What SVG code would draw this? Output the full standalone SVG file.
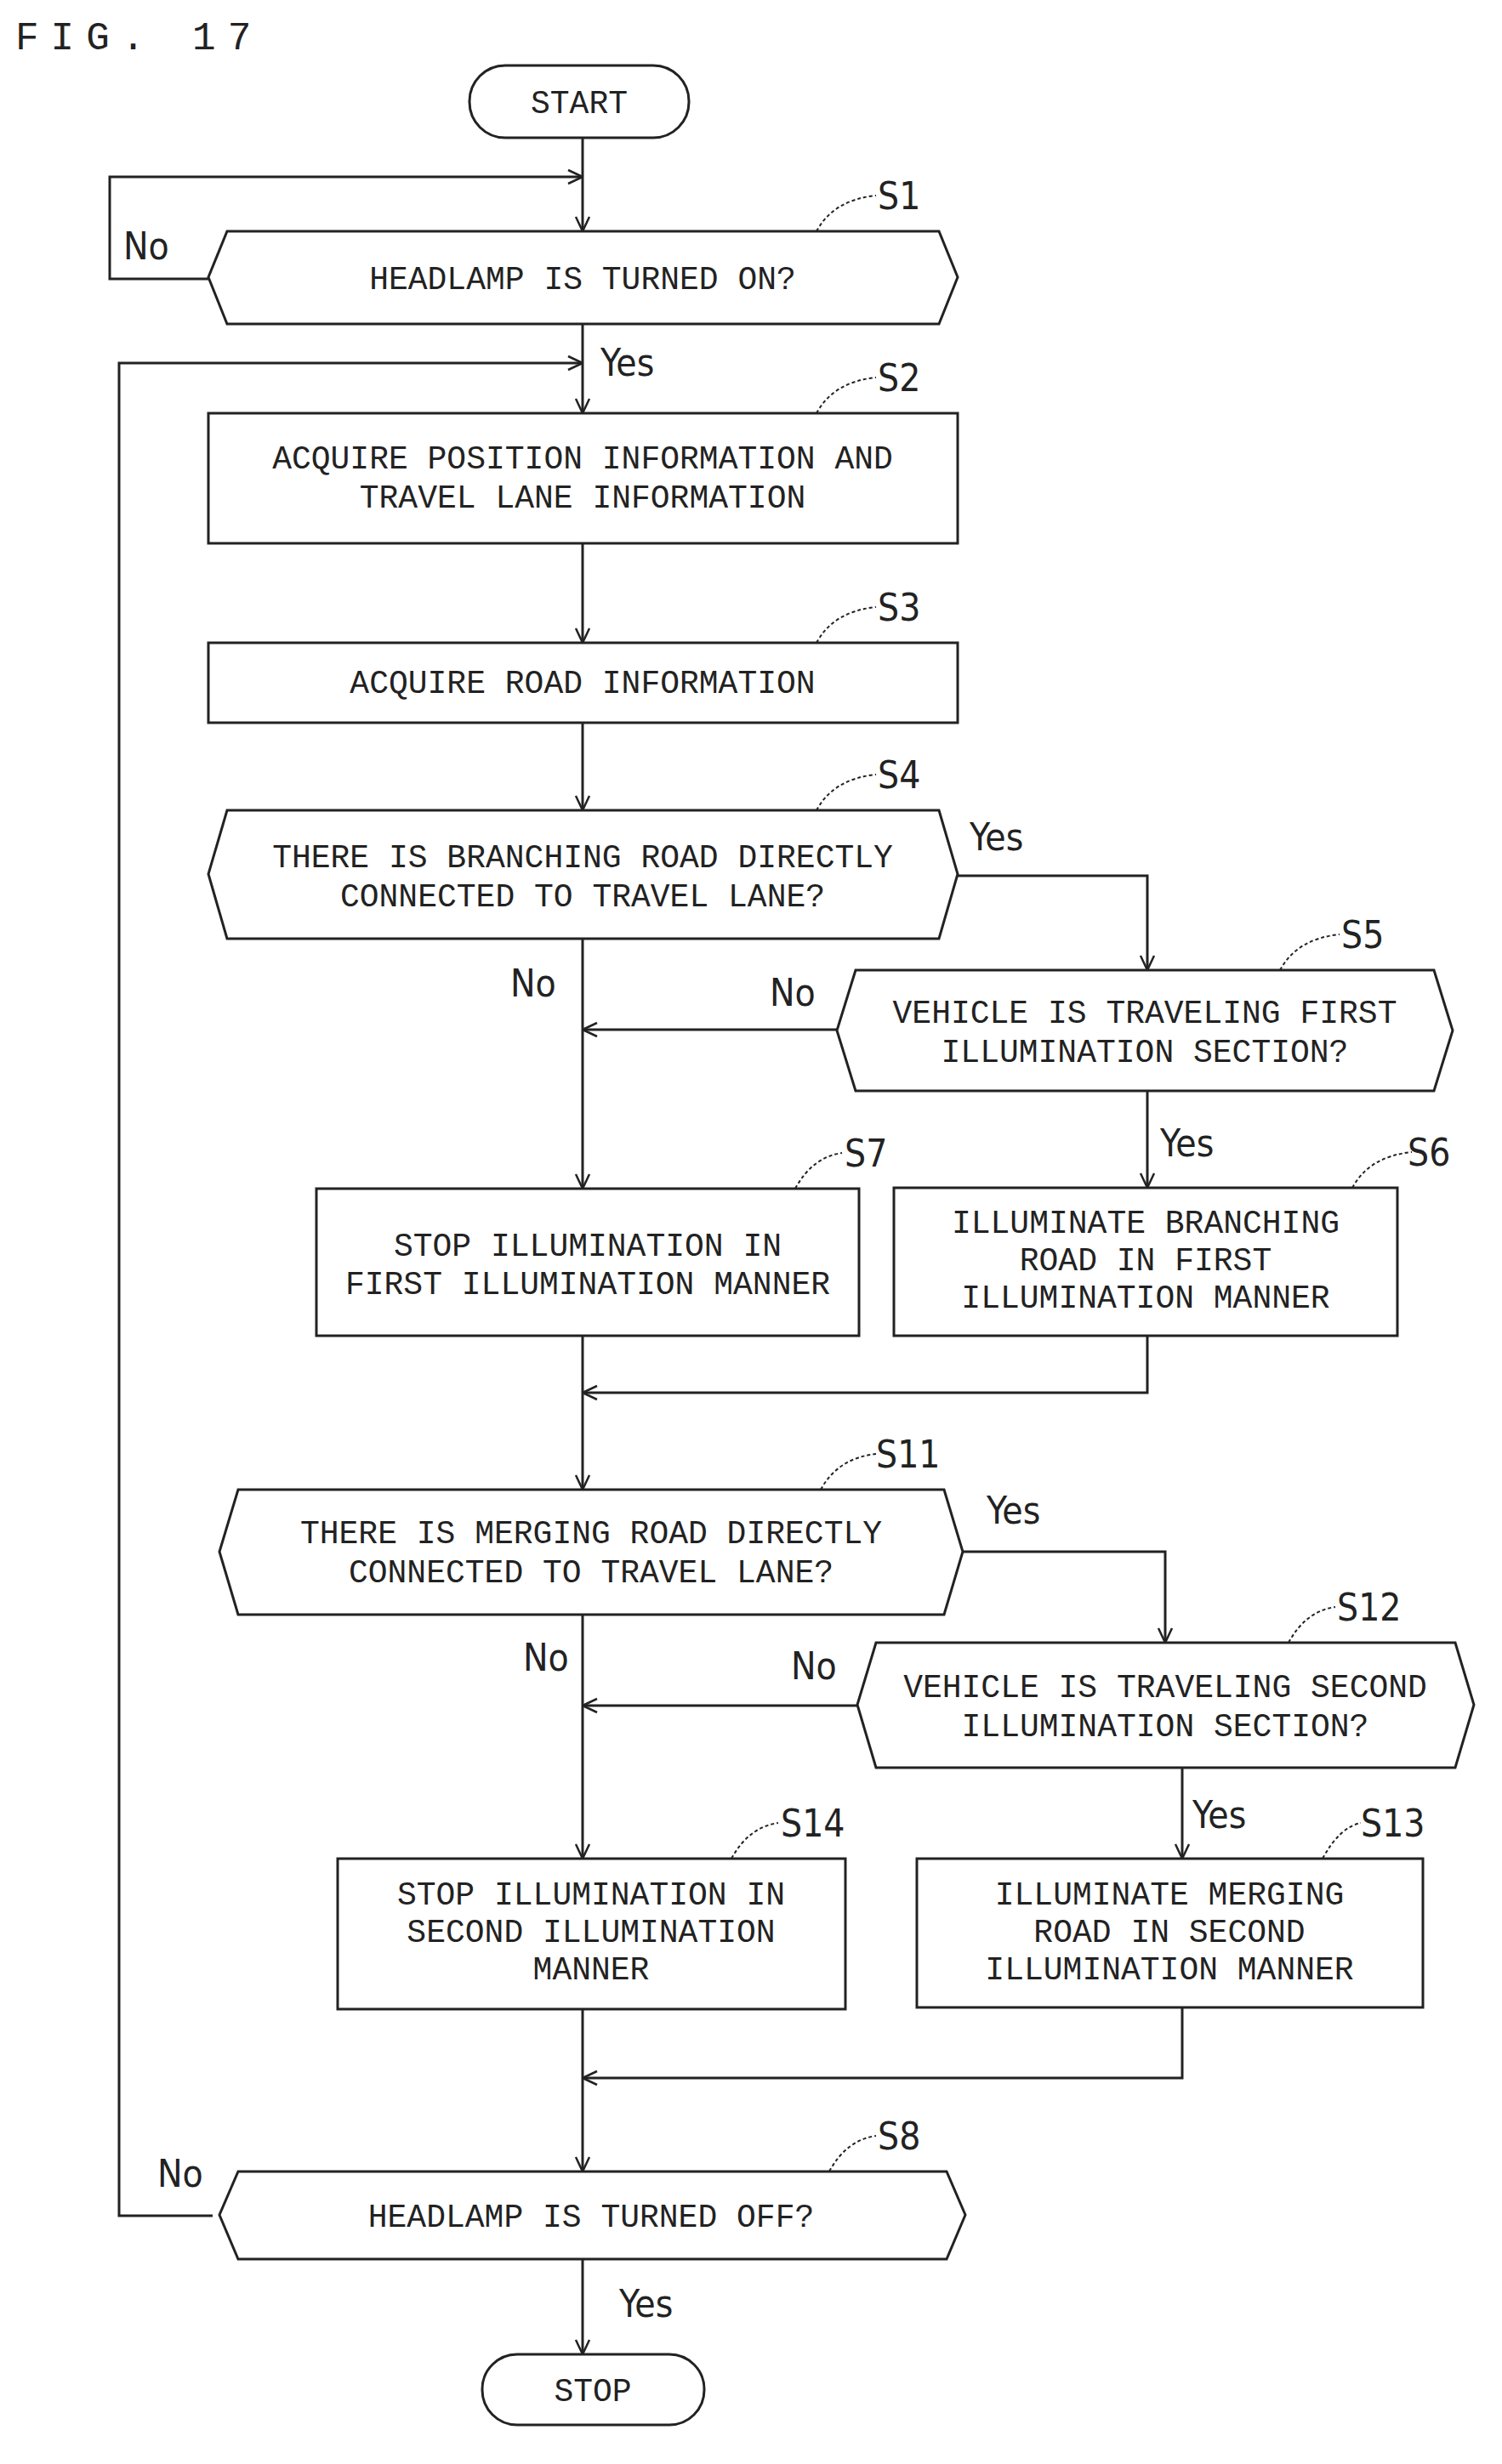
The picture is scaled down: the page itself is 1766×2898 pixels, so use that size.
<svg xmlns="http://www.w3.org/2000/svg" width="1766" height="2898" viewBox="0 0 1766 2898">
<style>
.s{fill:#fff;stroke:#222;stroke-width:3}
.t{font-family:"Liberation Mono",monospace;font-size:38px;fill:#222;text-anchor:middle}
.l{font-family:"DejaVu Sans Condensed","DejaVu Sans",sans-serif;font-size:44px;fill:#222}
.c{fill:none;stroke:#222;stroke-width:3}
.q{fill:none;stroke:#222;stroke-width:2;stroke-dasharray:4 3}
</style>
<defs><marker id="a" viewBox="0 0 20 20" refX="19" refY="10" markerWidth="20" markerHeight="20" markerUnits="userSpaceOnUse" orient="auto"><path d="M2 2L19 10L2 18" fill="none" stroke="#222" stroke-width="2.5"/></marker></defs>
<rect width="1766" height="2898" fill="#fff"/>
<text x="18" y="58" style="font-family:'Liberation Mono',monospace;font-size:46px;fill:#222;letter-spacing:14px">FIG. 17</text>
<g id="connectors">
<path class="c" d="M685 162V272" marker-end="url(#a)"/>
<path class="c" d="M245 328H129V208H685" marker-end="url(#a)"/>
<path class="c" d="M685 381V486" marker-end="url(#a)"/>
<path class="c" d="M250 2606H140V427H685" marker-end="url(#a)"/>
<path class="c" d="M685 639V756" marker-end="url(#a)"/>
<path class="c" d="M685 850V953" marker-end="url(#a)"/>
<path class="c" d="M1126 1030H1349V1141" marker-end="url(#a)"/>
<path class="c" d="M685 1104V1398" marker-end="url(#a)"/>
<path class="c" d="M984 1211H685" marker-end="url(#a)"/>
<path class="c" d="M1349 1283V1397" marker-end="url(#a)"/>
<path class="c" d="M685 1571V1752" marker-end="url(#a)"/>
<path class="c" d="M1349 1571V1638H685" marker-end="url(#a)"/>
<path class="c" d="M1132 1825H1370V1932" marker-end="url(#a)"/>
<path class="c" d="M685 1899V2186" marker-end="url(#a)"/>
<path class="c" d="M1008 2006H685" marker-end="url(#a)"/>
<path class="c" d="M1390 2079V2186" marker-end="url(#a)"/>
<path class="c" d="M685 2363V2554" marker-end="url(#a)"/>
<path class="c" d="M1390 2361V2444H685" marker-end="url(#a)"/>
<path class="c" d="M685 2657V2769" marker-end="url(#a)"/>
<text class="l" x="145" y="305">No</text>
<text class="l" x="706" y="442">Yes</text>
<text class="l" x="1140" y="1000">Yes</text>
<text class="l" x="600" y="1172">No</text>
<text class="l" x="905" y="1183">No</text>
<text class="l" x="1364" y="1360">Yes</text>
<text class="l" x="1160" y="1792">Yes</text>
<text class="l" x="615" y="1965">No</text>
<text class="l" x="930" y="1975">No</text>
<text class="l" x="1402" y="2150">Yes</text>
<text class="l" x="185" y="2572">No</text>
<text class="l" x="728" y="2725">Yes</text>
</g>
<g id="start"><rect class="s" x="552" y="77" width="258" height="85" rx="42"/><text class="t" x="681" y="133">START</text></g>
<g id="S1"><polygon class="s" points="267,272 1104,272 1126,326 1104,381 267,381 245,326"/><text class="t" x="685" y="340">HEADLAMP IS TURNED ON?</text><path class="q" d="M960 272Q980 235 1030 230"/><text class="l" x="1032" y="246">S1</text></g>
<g id="S2"><rect class="s" x="245" y="486" width="881" height="153"/><text class="t" x="685" y="551">ACQUIRE POSITION INFORMATION AND</text><text class="t" x="685" y="597">TRAVEL LANE INFORMATION</text><path class="q" d="M960 486Q980 449 1030 444"/><text class="l" x="1032" y="460">S2</text></g>
<g id="S3"><rect class="s" x="245" y="756" width="881" height="94"/><text class="t" x="685" y="815">ACQUIRE ROAD INFORMATION</text><path class="q" d="M960 756Q980 719 1030 714"/><text class="l" x="1032" y="730">S3</text></g>
<g id="S4"><polygon class="s" points="267,953 1104,953 1126,1028 1104,1104 267,1104 245,1028"/><text class="t" x="685" y="1020">THERE IS BRANCHING ROAD DIRECTLY</text><text class="t" x="685" y="1066">CONNECTED TO TRAVEL LANE?</text><path class="q" d="M960 953Q980 916 1030 911"/><text class="l" x="1032" y="927">S4</text></g>
<g id="S5"><polygon class="s" points="1006,1141 1686,1141 1708,1212 1686,1283 1006,1283 984,1212"/><text class="t" x="1346" y="1203">VEHICLE IS TRAVELING FIRST</text><text class="t" x="1346" y="1249">ILLUMINATION SECTION?</text><path class="q" d="M1505 1141Q1525 1104 1575 1099"/><text class="l" x="1577" y="1115">S5</text></g>
<g id="S6"><rect class="s" x="1051" y="1397" width="592" height="174"/><text class="t" x="1347" y="1450">ILLUMINATE BRANCHING</text><text class="t" x="1347" y="1494">ROAD IN FIRST</text><text class="t" x="1347" y="1538">ILLUMINATION MANNER</text><path class="q" d="M1590 1397Q1610 1360 1660 1355"/><text class="l" x="1655" y="1371">S6</text></g>
<g id="S7"><rect class="s" x="372" y="1398" width="638" height="173"/><text class="t" x="691" y="1477">STOP ILLUMINATION IN</text><text class="t" x="691" y="1522">FIRST ILLUMINATION MANNER</text><path class="q" d="M935 1398Q955 1361 990 1356"/><text class="l" x="993" y="1372">S7</text></g>
<g id="S11"><polygon class="s" points="280,1752 1110,1752 1132,1825 1110,1899 280,1899 258,1825"/><text class="t" x="695" y="1815">THERE IS MERGING ROAD DIRECTLY</text><text class="t" x="695" y="1861">CONNECTED TO TRAVEL LANE?</text><path class="q" d="M965 1752Q985 1715 1030 1710"/><text class="l" x="1030" y="1726">S11</text></g>
<g id="S12"><polygon class="s" points="1030,1932 1711,1932 1733,2005 1711,2079 1030,2079 1008,2005"/><text class="t" x="1370" y="1996">VEHICLE IS TRAVELING SECOND</text><text class="t" x="1370" y="2042">ILLUMINATION SECTION?</text><path class="q" d="M1515 1932Q1535 1895 1570 1890"/><text class="l" x="1572" y="1906">S12</text></g>
<g id="S13"><rect class="s" x="1078" y="2186" width="595" height="175"/><text class="t" x="1375" y="2240">ILLUMINATE MERGING</text><text class="t" x="1375" y="2284">ROAD IN SECOND</text><text class="t" x="1375" y="2328">ILLUMINATION MANNER</text><path class="q" d="M1555 2186Q1575 2149 1600 2144"/><text class="l" x="1600" y="2160">S13</text></g>
<g id="S14"><rect class="s" x="397" y="2186" width="597" height="177"/><text class="t" x="695" y="2240">STOP ILLUMINATION IN</text><text class="t" x="695" y="2284">SECOND ILLUMINATION</text><text class="t" x="695" y="2328">MANNER</text><path class="q" d="M860 2186Q880 2149 915 2144"/><text class="l" x="918" y="2160">S14</text></g>
<g id="S8"><polygon class="s" points="280,2554 1113,2554 1135,2605 1113,2657 280,2657 258,2605"/><text class="t" x="695" y="2619">HEADLAMP IS TURNED OFF?</text><path class="q" d="M975 2554Q995 2517 1030 2512"/><text class="l" x="1032" y="2528">S8</text></g>
<g id="stop"><rect class="s" x="567" y="2769" width="261" height="83" rx="41"/><text class="t" x="697" y="2824">STOP</text></g>
</svg>
